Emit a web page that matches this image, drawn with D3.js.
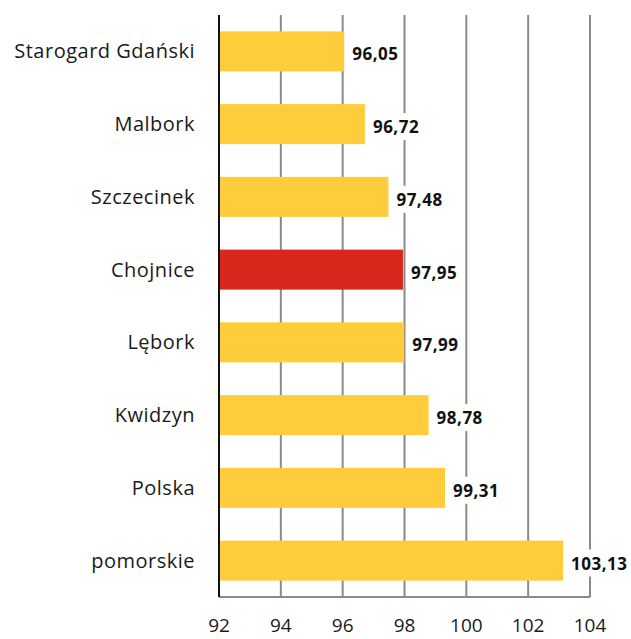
<!DOCTYPE html>
<html>
<head>
<meta charset="utf-8">
<script src="https://cdn.jsdelivr.net/npm/d3@7"></script>
<style>
  body { margin: 0; background: #fff; }
  svg { display: block; }
</style>
</head>
<body>
<div id="chart"></div>
<script>
var categories = ["Starogard Gdański", "Malbork", "Szczecinek", "Chojnice", "Lębork", "Kwidzyn", "Polska", "pomorskie"];
var values = [96.05, 96.72, 97.48, 97.95, 97.99, 98.78, 99.31, 103.13];
var highlight = ["Chojnice"];
var tickValues = [92, 94, 96, 98, 100, 102, 104];

var width = 631;
var height = 639;
var plot_left = 219, plot_right = 590, plot_top = 15, plot_bottom = 597;

var svg = d3.select("#chart").append("svg")
            .attr("width", width)
            .attr("height", height);

var x = d3.scaleLinear().domain([92, 104]).range([plot_left, plot_right]);
var y = d3.scaleBand().domain(categories).range([plot_top, plot_bottom])
          .paddingInner(0.45).paddingOuter(0.225);

// vertical grid lines
svg.append("g").selectAll("line")
    .data(tickValues.slice(1))
    .enter().append("line")
    .attr("x1", function(d){ return x(d); })
    .attr("x2", function(d){ return x(d); })
    .attr("y1", plot_top)
    .attr("y2", plot_bottom)
    .attr("stroke", "#8a8a8a")
    .attr("stroke-width", 2);

// bottom line
svg.append("line")
    .attr("x1", plot_left).attr("x2", plot_right)
    .attr("y1", plot_bottom).attr("y2", plot_bottom)
    .attr("stroke", "#8a8a8a")
    .attr("stroke-width", 2);

// bars
svg.append("g").selectAll("rect")
    .data(categories)
    .enter().append("rect")
    .attr("x", x(92))
    .attr("y", function(d){ return y(d); })
    .attr("height", y.bandwidth())
    .attr("width", function(d, i){ return x(values[i]) - x(92); })
    .attr("fill", function(d){ return highlight.indexOf(d) >= 0 ? "#da271d" : "#ffcc3c"; });

// axis line
svg.append("line")
    .attr("x1", plot_left).attr("x2", plot_left)
    .attr("y1", plot_top).attr("y2", plot_bottom)
    .attr("stroke", "#111")
    .attr("stroke-width", 2);

// category labels
svg.append("g").selectAll("text")
    .data(categories)
    .enter().append("text")
    .attr("x", 195)
    .attr("y", function(d){ return y(d) + y.bandwidth()/2; })
    .attr("dy", "0.35em")
    .attr("text-anchor", "end")
    .style("font-family", "'Open Sans', sans-serif")
    .style("font-size", "20px")
    .style("letter-spacing", "0.5px")
    .style("fill", "#1a1a1a")
    .text(function(d){ return d; });

// value labels with white background
var fmt = function(v){ return v.toFixed(2).replace(".", ","); };
var lab = svg.append("g").selectAll("g")
    .data(categories)
    .enter().append("g")
    .attr("transform", function(d, i){
        return "translate(" + (x(values[i]) + 8) + "," + (y(d) + y.bandwidth()/2 + 3) + ")";
    });
lab.append("rect").attr("class", "bg").attr("fill", "#fff");
lab.append("text")
    .attr("dy", "0.35em")
    .style("font-family", "'Open Sans', sans-serif")
    .style("font-weight", "bold")
    .style("font-size", "17px")
    .style("letter-spacing", "0.5px")
    .style("fill", "#111")
    .text(function(d, i){ return fmt(values[i]); });
lab.each(function(){
    var g = d3.select(this);
    var bb = g.select("text").node().getBBox();
    g.select("rect")
        .attr("x", bb.x - 4)
        .attr("y", bb.y - 2)
        .attr("width", bb.width + 5)
        .attr("height", bb.height + 4);
});

// tick labels
svg.append("g").selectAll("text")
    .data(tickValues)
    .enter().append("text")
    .attr("x", function(d){ return x(d); })
    .attr("y", 625)
    .attr("dy", "0.35em")
    .attr("text-anchor", "middle")
    .style("font-family", "'Open Sans', sans-serif")
    .style("font-size", "19px")
    .style("fill", "#1a1a1a")
    .text(function(d){ return d; });
</script>
</body>
</html>
